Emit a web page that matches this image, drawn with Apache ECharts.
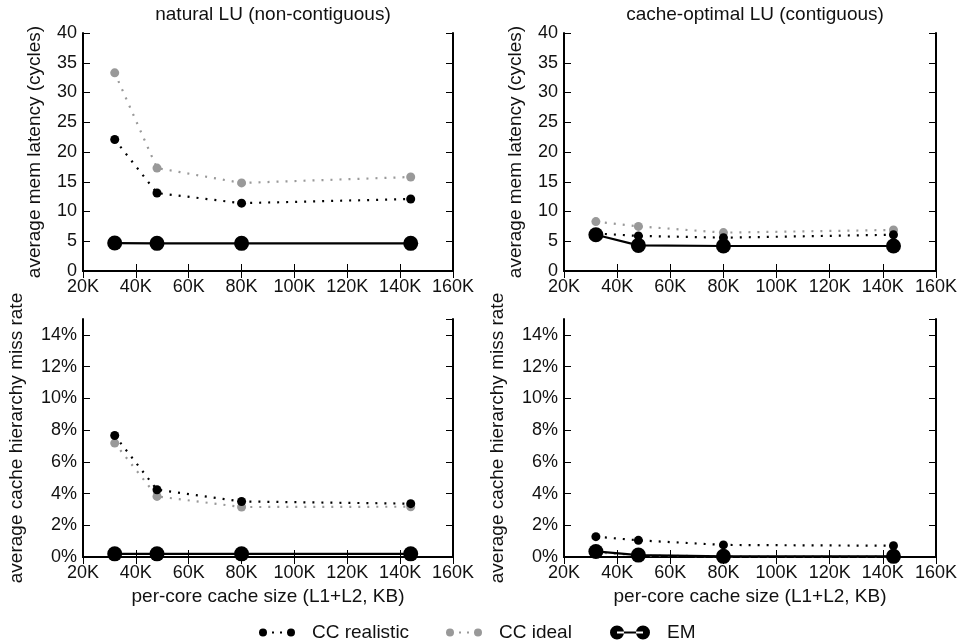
<!DOCTYPE html>
<html>
<head>
<meta charset="utf-8">
<script src="https://cdn.jsdelivr.net/npm/echarts@6/dist/echarts.min.js"></script>
<style>
html,body{margin:0;padding:0;background:#fff;}
#chart{width:961px;height:644px;}
</style>
</head>
<body>
<div id="chart"></div>
<script>
// ---- data (x in KB) ----
const cacheSizesK = [32, 48, 80, 144];
const xTicks = [20, 40, 60, 80, 100, 120, 140, 160];
const panelTitles = ['natural LU (non-contiguous)', 'cache-optimal LU (contiguous)'];
const seriesNames = ['CC realistic', 'CC ideal', 'EM'];

const naturalLatencyRealistic = [22.1, 13.1, 11.4, 12.1];
const naturalLatencyIdeal     = [33.3, 17.3, 14.8, 15.8];
const naturalLatencyEM        = [4.7, 4.65, 4.65, 4.65];

const optimalLatencyRealistic = [6.3, 5.9, 5.6, 6.1];
const optimalLatencyIdeal     = [8.3, 7.5, 6.45, 6.9];
const optimalLatencyEM        = [6.1, 4.3, 4.2, 4.2];

const naturalMissRealistic = [7.66, 4.24, 3.5, 3.36];
const naturalMissIdeal     = [7.18, 3.82, 3.15, 3.17];
const naturalMissEM        = [0.2, 0.2, 0.2, 0.2];

const optimalMissRealistic = [1.28, 1.05, 0.76, 0.71];
const optimalMissIdeal     = [0.3, 0.1, 0.04, 0.04];
const optimalMissEM        = [0.35, 0.12, 0.04, 0.04];

// ---- layout / style ----
const FONT = 'Liberation Sans, Arial, sans-serif';
const FS = 18;      // tick labels
const FS_T = 19;    // titles, axis names, legend
const GRAY = '#999999';
const TXT = '#111';
const grids = [
  {left: 83, top: 33, width: 370, height: 238},
  {left: 564, top: 33, width: 372, height: 238},
  {left: 83, top: 319, width: 370, height: 238},
  {left: 564, top: 319, width: 372, height: 238}
];

const pair = v => cacheSizesK.map((x, i) => [x, v[i]]);

const xAxes = [];
const yAxes = [];
const axisLine = {show: true, lineStyle: {color: '#000', width: 2}};
const tick = {show: true, inside: true, length: 7, lineStyle: {color: '#000', width: 1}};
for (let g = 0; g < 4; g++) {
  const bottomRow = g >= 2;
  xAxes.push({
    type: 'value', gridIndex: g, position: 'bottom', min: xTicks[0], max: xTicks[xTicks.length - 1], interval: 20,
    axisLine, axisTick: tick, splitLine: {show: false},
    axisLabel: {color: TXT, fontSize: FS, fontFamily: FONT, margin: 7, formatter: v => v + 'K'},
    name: bottomRow ? 'per-core cache size (L1+L2, KB)' : '',
    nameLocation: 'middle', nameGap: 30,
    nameTextStyle: {color: TXT, fontSize: FS_T, fontFamily: FONT}
  });
  yAxes.push({
    type: 'value', gridIndex: g, position: 'left',
    min: 0, max: bottomRow ? 15 : 40, interval: bottomRow ? 2 : 5,
    axisLine, axisTick: tick, splitLine: {show: false},
    axisLabel: {color: TXT, fontSize: FS, fontFamily: FONT, margin: 6, showMaxLabel: !bottomRow,
      formatter: v => bottomRow ? v + '%' : String(v)},
    name: bottomRow ? 'average cache hierarchy miss rate' : 'average mem latency (cycles)',
    nameLocation: 'middle', nameGap: bottomRow ? 57 : 39,
    nameTextStyle: {color: TXT, fontSize: FS_T, fontFamily: FONT}
  });
}
for (let g = 0; g < 4; g++) {
  const bottomRow = g >= 2;
  xAxes.push({
    type: 'value', gridIndex: g, position: 'top', min: xTicks[0], max: xTicks[xTicks.length - 1], interval: 20,
    axisLine, axisTick: tick, axisLabel: {show: false}, splitLine: {show: false}
  });
  yAxes.push({
    type: 'value', gridIndex: g, position: 'right',
    min: 0, max: bottomRow ? 15 : 40, interval: bottomRow ? 2 : 5,
    axisLine, axisTick: tick, axisLabel: {show: false}, splitLine: {show: false}
  });
}

const panelData = [
  [naturalLatencyRealistic, naturalLatencyIdeal, naturalLatencyEM],
  [optimalLatencyRealistic, optimalLatencyIdeal, optimalLatencyEM],
  [naturalMissRealistic, naturalMissIdeal, naturalMissEM],
  [optimalMissRealistic, optimalMissIdeal, optimalMissEM]
];

const series = [];
panelData.forEach((d, g) => {
  series.push({
    name: seriesNames[1], type: 'line', xAxisIndex: g, yAxisIndex: g, data: pair(d[1]),
    symbol: 'circle', symbolSize: 9, z: 2,
    itemStyle: {color: GRAY},
    lineStyle: {color: GRAY, width: 2.2, type: [2, 7]}
  });
  series.push({
    name: seriesNames[0], type: 'line', xAxisIndex: g, yAxisIndex: g, data: pair(d[0]),
    symbol: 'circle', symbolSize: 9, z: 3,
    itemStyle: {color: '#000'},
    lineStyle: {color: '#000', width: 2.2, type: [2, 7]}
  });
  series.push({
    name: seriesNames[2], type: 'line', xAxisIndex: g, yAxisIndex: g, data: pair(d[2]),
    symbol: 'circle', symbolSize: 15, z: 4,
    itemStyle: {color: '#000'},
    lineStyle: {color: '#000', width: 2.2}
  });
});

const ccIcon = 'path://M0,4a4,4 0 1,0 8,0a4,4 0 1,0 -8,0Z M28,4a4,4 0 1,0 8,0a4,4 0 1,0 -8,0Z M13,3h2v2h-2Z M21,3h2v2h-2Z';
const emIcon = 'path://M0,7a7,7 0 1,0 14,0a7,7 0 1,0 -14,0Z M26,7a7,7 0 1,0 14,0a7,7 0 1,0 -14,0Z M7,6h26v2h-26Z';

const legendText = {color: TXT, fontSize: FS_T, fontFamily: FONT, padding: [0, 0, 0, 12]};
const legends = [
  {data: [{name: seriesNames[0], icon: ccIcon}], left: 259, itemWidth: 36, itemHeight: 8},
  {data: [{name: seriesNames[1], icon: ccIcon}], left: 446, itemWidth: 36, itemHeight: 8},
  {data: [{name: seriesNames[2], icon: emIcon}], left: 610, itemWidth: 40, itemHeight: 14}
].map(l => Object.assign({top: 623, padding: 0, symbolKeepAspect: false, selectedMode: false,
  textStyle: legendText, itemStyle: {borderWidth: 0}, lineStyle: {opacity: 0}}, l));

const option = {
  animation: false,
  backgroundColor: '#fff',
  title: [
    {text: panelTitles[0], left: 268, top: 0, textAlign: 'center',
     textStyle: {color: TXT, fontSize: FS_T, fontWeight: 'normal', fontFamily: FONT}},
    {text: panelTitles[1], left: 750, top: 0, textAlign: 'center',
     textStyle: {color: TXT, fontSize: FS_T, fontWeight: 'normal', fontFamily: FONT}}
  ],
  legend: legends,
  grid: grids,
  xAxis: xAxes,
  yAxis: yAxes,
  series
};

const chart = echarts.init(document.getElementById('chart'), null, {renderer: 'canvas'});
chart.setOption(option);
</script>
</body>
</html>
